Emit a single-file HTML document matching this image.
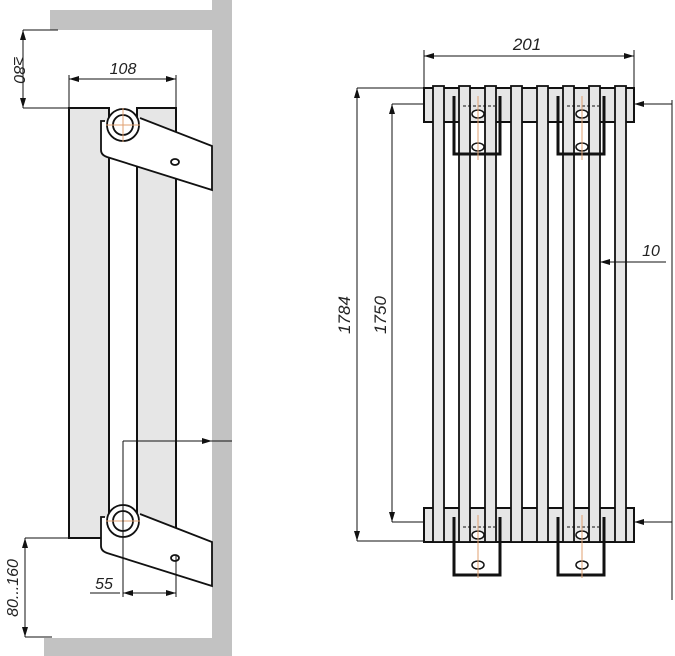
<!DOCTYPE html>
<html><head><style>body{margin:0;background:#fff}svg{display:block}text{font-family:"Liberation Sans",sans-serif;font-style:italic;fill:#222}</style></head><body>
<svg width="675" height="656" viewBox="0 0 675 656" xmlns="http://www.w3.org/2000/svg">
<defs><marker id="a" markerWidth="10" markerHeight="6" refX="10" refY="3" orient="auto-start-reverse" markerUnits="userSpaceOnUse"><path d="M0,0L10,3L0,6z" fill="#111"/></marker></defs>
<rect x="50" y="10" width="182" height="20" fill="#c2c2c2"/>
<rect x="212" y="0" width="20" height="656" fill="#c2c2c2"/>
<rect x="44" y="638" width="188" height="18" fill="#c2c2c2"/>
<g stroke="#111" stroke-width="2" fill="#e6e6e6">
<rect x="69" y="108" width="40" height="430"/>
<rect x="137" y="108" width="39" height="430"/>
</g>
<g stroke="#111" stroke-width="1.8" fill="#fff">
<path d="M105,121 L101,121 L101,150 Q101,155 107,157 L212,190 L212,146 L140,118"/>
<path d="M105,517 L101,517 L101,546 Q101,551 107,553 L212,586 L212,542 L140,514"/>
<circle cx="123" cy="125" r="16"/><circle cx="123" cy="125" r="10"/>
<circle cx="123" cy="521" r="16"/><circle cx="123" cy="521" r="10"/>
<ellipse cx="175" cy="162" rx="4" ry="3"/><ellipse cx="175" cy="558" rx="4" ry="3"/>
</g>
<g stroke="#e0a070" stroke-width="1"><path d="M123,108V142M106,125H140M123,504V538M106,521H140"/></g>
<g stroke="#111" stroke-width="1" fill="none">
<path d="M69,108V75M176,108V75"/>
<path d="M69,79H176" marker-start="url(#a)" marker-end="url(#a)"/>
<path d="M23,30H58M23,108H69"/>
<path d="M23,30V108" marker-start="url(#a)" marker-end="url(#a)"/>
<path d="M25,538H69M25,637H52"/>
<path d="M25,538V637" marker-start="url(#a)" marker-end="url(#a)"/>
<path d="M123,441V597M176,555V597"/>
<path d="M123,593H176" marker-start="url(#a)" marker-end="url(#a)"/>
<path d="M90,593H120"/>
<path d="M123,441H212" marker-end="url(#a)"/><path d="M212,441H232"/>
</g>
<text x="123" y="74" font-size="16" text-anchor="middle">108</text>
<text transform="translate(14,70) rotate(90)" font-size="16" text-anchor="middle">≥80</text>
<text transform="translate(18,588) rotate(-90)" font-size="16" text-anchor="middle">80...160</text>
<text x="104" y="589" font-size="16" text-anchor="middle">55</text>
<g stroke="#111" stroke-width="2" fill="#e6e6e6">
<rect x="424" y="88" width="210" height="34"/>
<rect x="424" y="508" width="210" height="34"/>
<g stroke-width="1.8">
<rect x="433" y="86" width="11" height="456"/><rect x="459" y="86" width="11" height="456"/>
<rect x="485" y="86" width="11" height="456"/><rect x="511" y="86" width="11" height="456"/>
<rect x="537" y="86" width="11" height="456"/><rect x="563" y="86" width="11" height="456"/>
<rect x="589" y="86" width="11" height="456"/><rect x="615" y="86" width="11" height="456"/>
</g>
</g>
<g stroke="#111" fill="none">
<path d="M454,96V154H500V96" stroke-width="3"/>
<path d="M558,96V154H604V96" stroke-width="3"/>
<path d="M454,517V575H500V517" stroke-width="3"/>
<path d="M558,517V575H604V517" stroke-width="3"/>
<path d="M463,106H495M567,106H599M463,527H495M567,527H599" stroke-dasharray="3,2" stroke-width="1"/>
<g stroke-width="1.5" fill="#fff">
<ellipse cx="478" cy="147" rx="6" ry="4"/><ellipse cx="582" cy="147" rx="6" ry="4"/>
<ellipse cx="478" cy="565" rx="6" ry="4"/><ellipse cx="582" cy="565" rx="6" ry="4"/>
<ellipse cx="478" cy="114" rx="6" ry="4"/><ellipse cx="582" cy="114" rx="6" ry="4"/>
<ellipse cx="478" cy="535" rx="6" ry="4"/><ellipse cx="582" cy="535" rx="6" ry="4"/>
</g>
</g>
<g stroke="#e0a070" stroke-width="1"><path d="M478,96V160M582,96V160M478,515V578M582,515V578"/></g>
<g stroke="#111" stroke-width="1" fill="none">
<path d="M424,50V88M634,50V88"/>
<path d="M424,56H634" marker-start="url(#a)" marker-end="url(#a)"/>
<path d="M357,88H424M357,541H424"/>
<path d="M357,88V541" marker-start="url(#a)" marker-end="url(#a)"/>
<path d="M392,104H424M392,522H424"/>
<path d="M392,104V522" marker-start="url(#a)" marker-end="url(#a)"/>
<path d="M672,104H634" marker-end="url(#a)"/>
<path d="M672,522H634" marker-end="url(#a)"/>
<path d="M672,100V600"/>
<path d="M626,262H600" marker-end="url(#a)"/>
<path d="M600,262H666"/>
</g>
<text x="527" y="50" font-size="17" text-anchor="middle">201</text>
<text transform="translate(350,315) rotate(-90)" font-size="17" text-anchor="middle">1784</text>
<text transform="translate(386,315) rotate(-90)" font-size="17" text-anchor="middle">1750</text>
<text x="651" y="256" font-size="16" text-anchor="middle">10</text>
</svg>
</body></html>
